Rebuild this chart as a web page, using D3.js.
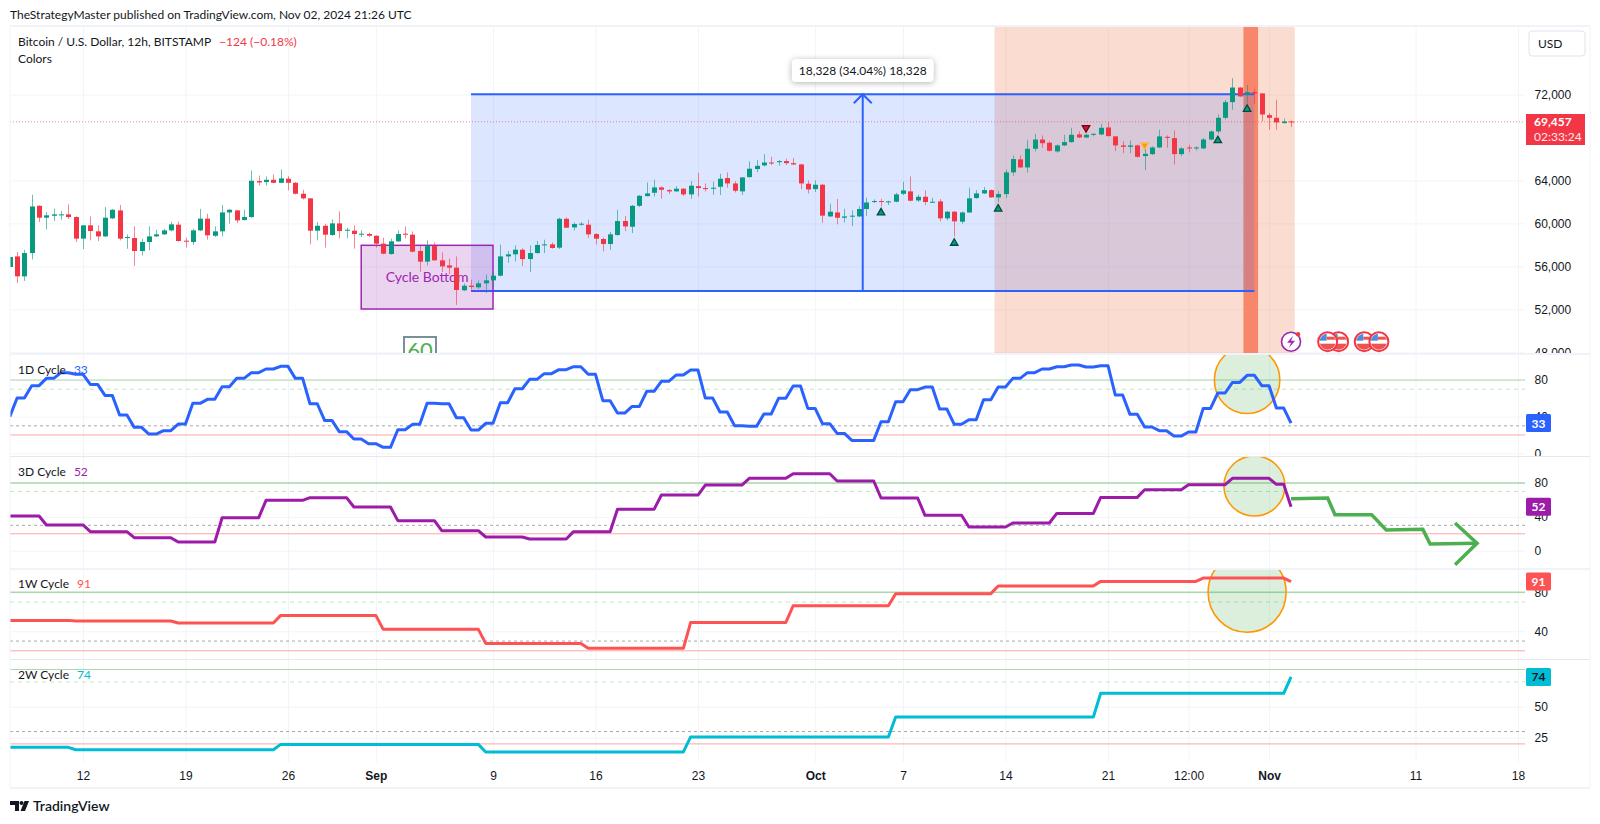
<!DOCTYPE html>
<html>
<head>
<meta charset="utf-8">
<script src="https://cdn.jsdelivr.net/npm/d3@7"></script>
<style>
  html, body { margin: 0; padding: 0; background: #fff; }
  svg { display: block; font-family: Lato, "Noto Sans", sans-serif; }
  .tick line { stroke: #f3f4f7; }
  .tick text { fill: #131722; font-size: 12px; }
</style>
</head>
<body>
<div id="chart"></div>
<script>
// OHLC of the 12h bars (first bar is Aug 7 2024 00:00 UTC)
const opens = [
  55940,56930,55070,57240,61640,60530,60710,60780,60840,60590,
  58580,59820,59260,58790,60470,61210,58640,58640,57430,58270,
  58790,58980,59350,59880,58390,58270,59350,60440,58850,59260,
  61020,61210,60310,60590,63940,63850,64060,63780,64160,63780,
  62760,62330,59320,59780,58920,60000,59350,59320,58980,59010,
  58850,58110,57150,58330,59040,58950,57430,56440,57890,56560,
  56090,55880,53770,54200,54050,54420,54700,55130,56930,57120,
  57550,56680,57240,57990,58050,57740,60430,59630,59910,59880,
  59010,58550,58080,58920,60220,59690,61640,62540,62850,63350,
  63100,62980,63230,62700,63470,63290,63230,63410,64220,63720,
  62980,64310,65060,65400,65670,65700,65800,65610,65490,63690,
  63190,63600,60650,61020,60530,60650,60650,61340,61990,62080,
  61990,62020,62760,62980,62140,62480,61950,62050,60470,61090,
  60160,61020,62360,62790,63100,62420,62730,64750,65960,65210,
  66950,67810,67510,66700,67260,67570,68280,68000,68280,68280,
  68930,68100,67260,67130,67260,66270,66450,67070,68060,67940,
  66450,67070,67010,66980,67810,68560,69830,71290,72650,71970,
  72220,72100,70080,69830,69340,69490
]
const highs = [
  56870,57340,57550,62670,61670,61060,61370,61150,61770,60650,
  59820,60650,59820,61520,61330,61710,58980,59720,58580,59720,
  59410,59500,60160,60190,58670,59500,61360,60900,59720,61710,
  61360,61270,61270,64930,64460,64370,64560,65020,64400,63850,
  63130,62360,60130,59970,60370,61120,59600,59820,59350,59130,
  58880,58670,58580,59350,59720,59260,57950,58420,58230,57300,
  56720,56930,54390,54760,54700,55230,55480,58020,57430,57950,
  57680,57950,58360,58480,58230,60530,60560,60090,60130,60340,
  59100,58670,59200,61270,60680,61710,62640,63810,64060,63440,
  63190,63470,63290,63940,64710,63720,63880,64620,64750,63940,
  64310,65770,65890,66450,66200,65890,66020,66080,65550,64000,
  64000,63690,61830,62270,61360,61210,61580,62390,62230,62300,
  62110,62850,63880,64370,62670,63070,62390,62270,61150,61150,
  61090,63320,63100,63380,63160,63010,65000,66330,66330,67790,
  68340,68190,67660,67350,68250,68900,68560,68340,68400,69270,
  69430,68130,67660,67720,67350,67040,67170,68720,68190,68650,
  67100,67320,67170,67970,68650,70140,71500,73520,72680,72870,
  72530,72130,70270,71500,69770,69580
]
const lows = [
  55940,54450,54640,56650,60130,59440,60220,60340,60400,58270,
  57610,58420,58360,58730,60400,58420,57640,56060,57020,57490,
  58730,58920,59260,58300,57740,57990,59290,58480,58730,58790,
  59970,60030,60280,60530,63530,63530,63750,63750,63070,62700,
  62230,58050,58420,57740,58850,58610,58610,57650,58730,58730,
  57740,57120,57090,58270,58610,57300,55480,56090,56560,55480,
  55260,52410,53710,53830,53890,53520,54080,55070,56340,56470,
  56030,55480,57180,57240,57650,57620,59570,59350,59780,58640,
  58050,57400,57550,58850,59290,59100,61520,62510,62510,62300,
  62730,62950,62540,62300,62510,62980,62670,62640,63320,62880,
  62640,64250,64780,65300,65430,65370,65430,65430,63190,62790,
  62920,60060,60590,59910,60090,59750,60590,60680,61890,61580,
  61710,61950,62640,62050,61990,61710,61890,60190,60280,58790,
  59970,60960,62300,62730,62390,61990,62360,64440,65150,64720,
  66700,67040,66700,66580,67200,67510,67940,67940,68100,68220,
  68070,66730,66540,66540,66110,64960,66360,67010,67040,65490,
  66270,66610,66790,66920,67720,68340,69680,70580,71790,71200,
  71130,69490,68720,68720,69300,68960
]
const closes = [
  56870,55070,57240,61580,60530,60750,60840,60840,60590,58580,
  59820,59290,58790,60530,61270,58580,58730,57430,58270,58790,
  58980,59350,59910,58360,58330,59350,60440,58890,59260,61020,
  61270,60280,60590,63970,63810,64060,63780,64190,63780,62760,
  62330,59320,59780,58950,60000,59290,59410,59010,59040,58850,
  58110,57180,58330,59010,58980,57370,56440,57890,56560,56000,
  55880,53800,54200,54080,54420,54700,55130,56930,57120,57550,
  56680,57240,57990,58050,57710,60430,59600,59940,59970,58980,
  58580,58080,58980,60220,59720,61640,62570,62790,63350,63130,
  62980,63230,62700,63510,63290,63190,63320,64160,63720,63040,
  64280,65090,65360,65670,65610,65800,65610,65490,63720,63160,
  63600,60720,61090,60530,60650,60720,61340,61950,62080,61990,
  62050,62700,63070,62110,62480,61990,62020,60470,61090,60190,
  61020,62330,62790,63100,62420,62730,64750,65990,65210,66950,
  67810,67470,66760,67260,67570,68250,68000,68250,68340,68900,
  68130,67260,67130,67260,66200,66480,67070,68100,67970,66450,
  66980,67010,67070,67810,68560,69830,71290,72650,71820,72220,
  72100,70140,69830,69400,69490,69457
]

// Oscillators. 1D changes once a day (two bars), the others hold a value for many bars
const cycle1D = [
  40.0,60.3,73.8,81.8,88.0,86.2,75.2,63.2,41.8,28.3,21.0,24.7,31.9,54.5,58.9,72.7,81.8,88.0,92.0,94.9,
  81.8,54.1,35.9,23.6,15.6,10.5,6.5,25.7,31.6,54.5,54.1,38.8,25.4,32.7,55.2,70.5,80.7,86.9,91.3,94.5,
  86.2,57.4,43.9,51.2,67.6,78.5,85.4,90.9,60.3,45.0,30.1,29.4,42.9,60.0,73.4,49.0,32.3,21.7,14.1,14.1,
  34.5,56.3,69.4,72.3,48.3,31.6,36.7,58.5,72.3,81.8,88.0,92.0,94.5,96.4,94.2,95.6,63.6,42.5,28.7,24.7,
  18.8,23.2,49.0,65.8,77.4,85.1,73.8,49.4,33
]
const cycle3D = [41.0,30.4,22.5,15.4,10.2,39.0,59.5,62.7,51.6,35.5,23.6,16.2,13.8,22.5,48.9,65.8,77.6,85.5,91.0,82.4,62.3,41.8,28.0,32.7,44.1,63.0,72.1,78.0,85.5,78.4,52]
const cycle3DStarts = [0,5,11,17,23,29,35,41,47,53,59,65,71,77,83,89,95,101,107,113,119,125,131,137,143,149,155,161,167,173,175]
const cycle1W = [51.2,50.5,48.5,56.3,42.0,27.6,22.5,49.1,66.2,78.6,86.4,91.2,94.6,91]
const cycle1WStarts = [0,9,23,37,51,65,79,93,107,121,135,149,163,175]
const cycle2W = [17.2,15.3,19.6,13.5,25.6,41.7,60.8,74]
const cycle2WStarts = [0,9,37,65,93,121,149,175]

// Hand drawn projection on the 3D pane: bar number and value of each corner
const forecastBars = [175,180,181,186,188,193,194,200.4]
const forecastValues = [61.5,62.2,42.6,42.6,24.4,25.2,7.9,8.7]
const forecastHeadBars = [197.4,200.4,197.4]
const forecastHeadValues = [32.7,8.7,-16.5]

// Signal triangles: bar number and price
const buyBars = [119,129,135,165,169]
const buyPrices = [60996,58168,61350,67720,70633]
const sellBars = [147,155]
const sellPrices = [68902,67284]
const sellColors = ['#c2185b','#ff9800']

// Measure box and coloured zones
const measureBars = [63,170]
const measurePrices = [72028,53700]
const cycleBoxBars = [48,66]
const cycleBoxPrices = [57960,52030]
const pinkZoneBars = [134.5,175.5]
const hotZoneBars = [168.5,170.5]
const lastPrice = 69457

// Event flags under the candles, in drawing order
const boltBar = 175
const flagBars = [[181.5,180],[185,187]]

// Axis labels
const timeTicks = [[7,12],[7,19],[7,26],[8,1],[8,9],[8,16],[8,23],[9,1],[9,7],[9,14],[9,21],[9,26,12],[10,1],[10,11],[10,18]]
const timeLabels = ['12','19','26','Sep','9','16','23','Oct','7','14','21','12:00','Nov','11','18']
const monthLabels = ['Sep','Oct','Nov']
const priceTicks = [72000,64000,60000,56000,52000,48000]

const config = {
    width: 1600,
    height: 824,
    plotLeft: 10,
    plotRight: 1525,
    frameRight: 1590,
    main: { top: 26, bottom: 354 },
    timeBottom: 788,
    green: '#089981',
    red: '#f23645',
    text: '#131722',
}

const svg = d3
    .select('#chart')
    .append('svg')
    .attr('width', config.width)
    .attr('height', config.height)

// 12h bars and the date axis
const barTimes = d3.utcHour.every(12).range(new Date(Date.UTC(2024, 7, 7)), new Date(Date.UTC(2024, 10, 2, 13)))
const x = d3
    .scaleUtc()
    .domain([new Date(Date.UTC(2024, 7, 12)), new Date(Date.UTC(2024, 10, 18))])
    .range([83, 1518])
const xBar = (i) => x(new Date(+barTimes[0] + i * 12 * 3600 * 1000))
const yPrice = d3.scaleLinear().domain([48000, 72000]).range([352.3, 94.5])

const defs = svg.append('defs')
const addClip = (id, top, bottom, right) =>
    defs
        .append('clipPath')
        .attr('id', id)
        .append('rect')
        .attr('x', config.plotLeft)
        .attr('y', top)
        .attr('width', right - config.plotLeft)
        .attr('height', bottom - top)

addClip('clip-main', config.main.top, config.main.bottom, config.plotRight)
addClip('clip-main-axis', config.main.top, config.main.bottom, config.frameRight)

// ------------- HEADER -------------
svg.append('text').attr('x', 10).attr('y', 19).attr('font-size', 12).attr('fill', config.text)
    .text('TheStrategyMaster published on TradingView.com, Nov 02, 2024 21:26 UTC')

// ------------- MAIN PANE -------------
const timeGrid = d3
    .axisBottom(x)
    .tickValues(timeTicks.map((t) => new Date(Date.UTC(2024, t[0], t[1], t[2] || 0))))
    .tickFormat((d, i) => timeLabels[i])
    .tickSize(config.timeBottom - 26 - config.main.top)

svg.append('g')
    .attr('class', 'time-grid')
    .attr('transform', `translate(0,${config.main.top})`)
    .call(timeGrid)
    .call((g) => g.select('.domain').remove())
    .call((g) => g.selectAll('text').remove())

const priceAxis = svg
    .append('g')
    .attr('clip-path', 'url(#clip-main-axis)')
    .append('g')
    .attr('transform', `translate(${config.plotRight},0)`)
    .call(
        d3
            .axisRight(yPrice)
            .tickValues(priceTicks)
            .tickFormat(d3.format(','))
            .tickSize(-(config.plotRight - config.plotLeft))
            .tickPadding(9.5)
    )
priceAxis.select('.domain').remove()

const mainPane = svg.append('g').attr('clip-path', 'url(#clip-main)')

// zones behind everything
mainPane.append('rect')
    .attr('x', xBar(pinkZoneBars[0]))
    .attr('width', xBar(pinkZoneBars[1]) - xBar(pinkZoneBars[0]))
    .attr('y', config.main.top)
    .attr('height', config.main.bottom - config.main.top)
    .attr('fill', 'rgba(240,130,90,0.28)')
mainPane.append('rect')
    .attr('x', xBar(hotZoneBars[0]))
    .attr('width', xBar(hotZoneBars[1]) - xBar(hotZoneBars[0]))
    .attr('y', config.main.top)
    .attr('height', config.main.bottom - config.main.top)
    .attr('fill', 'rgb(248,134,107)')

// last price dotted line
svg.append('line')
    .attr('x1', config.plotLeft)
    .attr('x2', config.plotRight)
    .attr('y1', yPrice(lastPrice))
    .attr('y2', yPrice(lastPrice))
    .attr('stroke', config.red)
    .attr('stroke-opacity', 0.6)
    .attr('stroke-dasharray', '1,2')

// price range measure
const measure = mainPane.append('g')
const mx0 = xBar(measureBars[0])
const mx1 = xBar(measureBars[1])
const myTop = yPrice(measurePrices[0])
const myBottom = yPrice(measurePrices[1])
const mxMid = xBar(116.5)
measure.append('rect')
    .attr('x', mx0).attr('y', myTop)
    .attr('width', mx1 - mx0).attr('height', myBottom - myTop)
    .attr('fill', 'rgba(41,98,255,0.16)')
measure.selectAll('line.edge')
    .data([myTop, myBottom])
    .join('line')
    .attr('class', 'edge')
    .attr('x1', mx0).attr('x2', mx1)
    .attr('y1', (d) => d).attr('y2', (d) => d)
    .attr('stroke', '#2962ff').attr('stroke-width', 2)
measure.append('line')
    .attr('x1', mxMid).attr('x2', mxMid)
    .attr('y1', myBottom).attr('y2', myTop)
    .attr('stroke', '#2962ff').attr('stroke-width', 2)
measure.append('path')
    .attr('d', `M${mxMid - 9},${myTop + 9}L${mxMid},${myTop}L${mxMid + 9},${myTop + 9}`)
    .attr('fill', 'none').attr('stroke', '#2962ff').attr('stroke-width', 2)

// measure label
svg.append('rect')
    .attr('x', mxMid - 71).attr('y', 59).attr('width', 142).attr('height', 23).attr('rx', 4)
    .attr('fill', '#fff')
    .style('filter', 'drop-shadow(0 1px 3px rgba(0,0,0,0.3))')
svg.append('text')
    .attr('x', mxMid).attr('y', 75).attr('text-anchor', 'middle')
    .attr('font-size', 12).attr('fill', config.text)
    .text('18,328 (34.04%) 18,328')

// cycle bottom box
const bx0 = xBar(cycleBoxBars[0])
const bx1 = xBar(cycleBoxBars[1])
mainPane.append('rect')
    .attr('x', bx0).attr('y', yPrice(cycleBoxPrices[0]))
    .attr('width', bx1 - bx0).attr('height', yPrice(cycleBoxPrices[1]) - yPrice(cycleBoxPrices[0]))
    .attr('fill', 'rgba(156,39,176,0.2)')
    .attr('stroke', '#9c27b0').attr('stroke-width', 1.5)
mainPane.append('text')
    .attr('x', (bx0 + bx1) / 2).attr('y', 282).attr('text-anchor', 'middle')
    .attr('font-size', 14).attr('fill', '#9c27b0')
    .text('Cycle Bottom')

// "60" box cut by the pane edge
mainPane.append('rect')
    .attr('x', 404).attr('y', 337).attr('width', 32).attr('height', 30)
    .attr('fill', '#fff').attr('stroke', '#78909c').attr('stroke-width', 2)
mainPane.append('text')
    .attr('x', 420).attr('y', 358).attr('text-anchor', 'middle')
    .attr('font-size', 22).attr('fill', '#4caf50')
    .text('60')

// candles
const candles = barTimes.map((t, i) => ({
    t,
    open: opens[i],
    high: highs[i],
    low: lows[i],
    close: closes[i],
}))
const candleColor = (d) => (d.close >= d.open ? config.green : config.red)
const candleX = (d) => Math.round(x(d.t))

mainPane.selectAll('line.wick')
    .data(candles)
    .join('line')
    .attr('class', 'wick')
    .attr('x1', (d) => candleX(d) + 0.5)
    .attr('x2', (d) => candleX(d) + 0.5)
    .attr('y1', (d) => yPrice(d.high))
    .attr('y2', (d) => yPrice(d.low))
    .attr('stroke', candleColor)
    .attr('stroke-opacity', 0.6)

mainPane.selectAll('rect.body')
    .data(candles)
    .join('rect')
    .attr('class', 'body')
    .attr('x', (d) => candleX(d) - 2)
    .attr('width', 5)
    .attr('y', (d) => yPrice(Math.max(d.open, d.close)))
    .attr('height', (d) => Math.max(1, Math.abs(yPrice(d.open) - yPrice(d.close))))
    .attr('fill', candleColor)

// signal triangles
const triangle = d3.symbol().type(d3.symbolTriangle).size(24)
mainPane.selectAll('path.buy')
    .data(buyBars)
    .join('path')
    .attr('class', 'buy')
    .attr('d', triangle)
    .attr('transform', (d, i) => `translate(${xBar(d)},${yPrice(buyPrices[i])})`)
    .attr('fill', config.green)
    .attr('stroke', '#004d40')
    .attr('stroke-width', 1.3)
mainPane.selectAll('path.sell')
    .data(sellBars)
    .join('path')
    .attr('class', 'sell')
    .attr('d', triangle)
    .attr('transform', (d, i) => `translate(${xBar(d)},${yPrice(sellPrices[i])}) rotate(180)`)
    .attr('fill', (d, i) => sellColors[i])
    .attr('stroke', (d, i) => (i === 0 ? '#7f0000' : '#ffb74d'))
    .attr('stroke-width', 1.3)

// ------------- PANE TITLE -------------
const mainTitle = svg.append('text').attr('x', 18).attr('y', 46).attr('font-size', 12).attr('fill', config.text)
mainTitle.append('tspan').text('Bitcoin / U.S. Dollar, 12h, BITSTAMP')
mainTitle.append('tspan').attr('dx', 8).attr('fill', config.red).text('\u2212124 (\u22120.18%)')
svg.append('text').attr('x', 18).attr('y', 63).attr('font-size', 12).attr('fill', config.text).text('Colors')

// ------------- EVENT ICONS -------------
const eventY = 341.7
const bolt = svg.append('g').attr('transform', `translate(${xBar(boltBar)},${eventY})`)
bolt.append('circle').attr('r', 9.5).attr('fill', '#fff').attr('stroke', '#9c27b0').attr('stroke-width', 1.6)
bolt.append('path').attr('d', 'M2,-6L-4,1H0L-2,6L4,-1H0Z').attr('fill', '#9c27b0')
bolt.append('circle').attr('cx', 7).attr('cy', -7.5).attr('r', 2.2).attr('fill', config.red)

flagBars.forEach((pair, p) => {
    pair.forEach((bar, k) => {
        const clipId = `flag-${p}-${k}`
        defs.append('clipPath').attr('id', clipId).append('circle').attr('r', 8)
        const flag = svg.append('g').attr('transform', `translate(${xBar(bar)},${eventY})`)
        flag.append('circle').attr('r', 9.5).attr('fill', '#fff').attr('stroke', config.red).attr('stroke-width', 2)
        const inner = flag.append('g').attr('clip-path', `url(#${clipId})`)
        inner.append('rect').attr('x', -9).attr('y', -8).attr('width', 8).attr('height', 7).attr('fill', '#4a90e2')
        inner.append('rect').attr('x', -1).attr('y', -5).attr('width', 10).attr('height', 3).attr('fill', '#ef5350')
        inner.append('rect').attr('x', -9).attr('y', 2).attr('width', 18).attr('height', 7).attr('fill', '#ef5350')
    })
})

// ------------- OSCILLATOR PANES -------------
// expand a list of step values to one value per bar
const stepsToBars = (values, starts) =>
    barTimes.map((t, i) => values[d3.bisectRight(starts, i) - 1])

const panes = [
    {
        title: '1D Cycle', top: 354, bottom: 456, color: '#2962ff', tagText: '#fff',
        y: d3.scaleLinear().domain([0, 80]).range([453.3, 380]),
        ticks: [80, 40, 0], band: 1,
        values: barTimes.map((t, i) => cycle1D[Math.ceil(i / 2)]),
        titleY: 374,
        ring: { bar: 169, value: 80, barsWide: 4.47, valuesHigh: 36.6 },
    },
    {
        title: '3D Cycle', top: 456, bottom: 569, color: '#9c1ba8', tagText: '#fff',
        y: d3.scaleLinear().domain([0, 80]).range([550.7, 483]),
        ticks: [80, 40, 0], band: 1.6,
        values: stepsToBars(cycle3D, cycle3DStarts),
        titleY: 476,
        ring: { bar: 170, value: 76.5, barsWide: 4.17, valuesHigh: 35.5 },
    },
    {
        title: '1W Cycle', top: 569, bottom: 659, color: '#ff5252', tagText: '#fff',
        y: d3.scaleLinear().domain([40, 80]).range([631.3, 592.3]),
        ticks: [80, 40], band: 1.6,
        values: stepsToBars(cycle1W, cycle1WStarts),
        titleY: 588,
        ring: { bar: 169, value: 80, barsWide: 5.33, valuesHigh: 41 },
    },
    {
        title: '2W Cycle', top: 659, bottom: 762, color: '#00bcd4', tagText: '#131722',
        y: d3.scaleLinear().domain([25, 50]).range([737.7, 706.7]),
        ticks: [50, 25], band: 1,
        values: stepsToBars(cycle2W, cycle2WStarts),
        titleY: 679,
    },
]

panes.forEach((pane, p) => {
    addClip(`clip-pane-${p}`, pane.top, pane.bottom, config.plotRight)
    addClip(`clip-axis-${p}`, pane.top, pane.bottom, config.frameRight)

    const axis = svg
        .append('g')
        .attr('clip-path', `url(#clip-axis-${p})`)
        .append('g')
        .attr('transform', `translate(${config.plotRight},0)`)
        .call(
            d3
                .axisRight(pane.y)
                .tickValues(pane.ticks)
                .tickSize(-(config.plotRight - config.plotLeft))
                .tickPadding(9.5)
        )
    axis.select('.domain').remove()

    const body = svg.append('g').attr('clip-path', `url(#clip-pane-${p})`)

    // 80 / 70 / 30 / 20 levels
    const level = (value, color, width, dash) =>
        body.append('line')
            .attr('x1', config.plotLeft).attr('x2', config.plotRight)
            .attr('y1', pane.y(value)).attr('y2', pane.y(value))
            .attr('stroke', color).attr('stroke-width', width)
            .attr('stroke-dasharray', dash)
    level(80, '#a9d8ab', pane.band, null)
    level(70, '#bdeabd', 1, '4,4')
    level(30, '#a8a8a8', 1, '3,3')
    level(20, '#ffa6a6', 1, null)

    if (pane.ring) {
        body.append('ellipse')
            .attr('cx', xBar(pane.ring.bar))
            .attr('cy', pane.y(pane.ring.value))
            .attr('rx', xBar(pane.ring.barsWide) - xBar(0))
            .attr('ry', pane.y(0) - pane.y(pane.ring.valuesHigh))
            .attr('fill', 'rgba(76,175,80,0.2)')
            .attr('stroke', '#ff9800')
            .attr('stroke-width', 1.6)
    }

    const line = d3
        .line()
        .x((d, i) => xBar(i))
        .y((d) => pane.y(d))
    body.append('path')
        .attr('d', line(pane.values))
        .attr('fill', 'none')
        .attr('stroke', pane.color)
        .attr('stroke-width', 3)
        .attr('stroke-linejoin', 'round')

    const title = svg.append('text').attr('x', 18).attr('y', pane.titleY).attr('font-size', 12).attr('fill', config.text)
    title.append('tspan').text(pane.title)
    title.append('tspan').attr('dx', 8).attr('fill', pane.color).text(pane.values[pane.values.length - 1])

    // value tag on the axis
    const tagY = pane.y(pane.values[pane.values.length - 1])
    svg.append('rect')
        .attr('x', 1526).attr('y', tagY - 9).attr('width', 25).attr('height', 18).attr('rx', 1.5)
        .attr('fill', pane.color)
    svg.append('text')
        .attr('x', 1538.5).attr('y', tagY + 4.5).attr('text-anchor', 'middle')
        .attr('font-size', 12).attr('font-weight', 700).attr('fill', pane.tagText)
        .text(pane.values[pane.values.length - 1])
})

// projection arrow on the 3D pane
const pane3D = panes[1]
const forecastLine = d3
    .line()
    .x((d) => xBar(d[0]))
    .y((d) => pane3D.y(d[1]))
const forecastLayer = svg.append('g').attr('clip-path', 'url(#clip-pane-1)')
forecastLayer.append('path')
    .attr('d', forecastLine(d3.zip(forecastBars, forecastValues)))
    .attr('fill', 'none').attr('stroke', '#4caf50').attr('stroke-width', 3.5)
forecastLayer.append('path')
    .attr('d', forecastLine(d3.zip(forecastHeadBars, forecastHeadValues)))
    .attr('fill', 'none').attr('stroke', '#4caf50').attr('stroke-width', 3.5)

// ------------- TIME AXIS -------------
const timeAxis = svg
    .append('g')
    .attr('transform', 'translate(0,762)')
    .call(timeGrid.tickSize(0).tickPadding(9))
timeAxis.select('.domain').remove()
timeAxis.selectAll('text')
    .style('font-size', '12px')
    .style('font-weight', (d, i) => (monthLabels.includes(timeLabels[i]) ? 700 : 400))

// ------------- FRAME -------------
const separators = [
    { y: config.main.top, color: '#f0f3fa', w: 2 },
    { y: 354, color: '#f0f3fa', w: 2 },
    { y: 456.5, color: '#e6e8ee', w: 1 },
    { y: 569, color: '#f0f3fa', w: 2 },
    { y: 659.5, color: '#e6e8ee', w: 1 },
    { y: config.timeBottom, color: '#f0f3fa', w: 2 },
]
svg.selectAll('line.separator')
    .data(separators)
    .join('line')
    .attr('class', 'separator')
    .attr('x1', config.plotLeft).attr('x2', config.frameRight)
    .attr('y1', (d) => d.y).attr('y2', (d) => d.y)
    .attr('stroke', (d) => d.color).attr('stroke-width', (d) => d.w)
svg.selectAll('line.side')
    .data([config.plotLeft, config.frameRight])
    .join('line')
    .attr('class', 'side')
    .attr('x1', (d) => d).attr('x2', (d) => d)
    .attr('y1', config.main.top).attr('y2', config.timeBottom)
    .attr('stroke', '#f0f3fa')

// ------------- PRICE LABELS -------------
svg.append('rect')
    .attr('x', 1529).attr('y', 31).attr('width', 56).attr('height', 25).attr('rx', 3)
    .attr('fill', '#fff').attr('stroke', '#e0e3eb')
svg.append('text').attr('x', 1538).attr('y', 47.5).attr('font-size', 12).attr('fill', config.text).text('USD')

svg.append('rect').attr('x', 1526).attr('y', 114).attr('width', 59).attr('height', 31).attr('fill', config.red)
svg.append('text').attr('x', 1534).attr('y', 126).attr('font-size', 12).attr('font-weight', 700).attr('fill', '#fff')
    .text(d3.format(',')(lastPrice))
svg.append('text').attr('x', 1534).attr('y', 141).attr('font-size', 12).attr('fill', '#fde8ea').text('02:33:24')

// ------------- LOGO -------------
const logo = svg.append('g').attr('fill', config.text)
logo.append('path').attr('d', 'M10,801H19V811H15V805H10Z')
logo.append('circle').attr('cx', 21.5).attr('cy', 803).attr('r', 2)
logo.append('path').attr('d', 'M24.5,801H29L25,811H20.5Z')
svg.append('text').attr('x', 33).attr('y', 811).attr('font-size', 14).attr('font-weight', 600).attr('fill', config.text).text('TradingView')
</script>
</body>
</html>
